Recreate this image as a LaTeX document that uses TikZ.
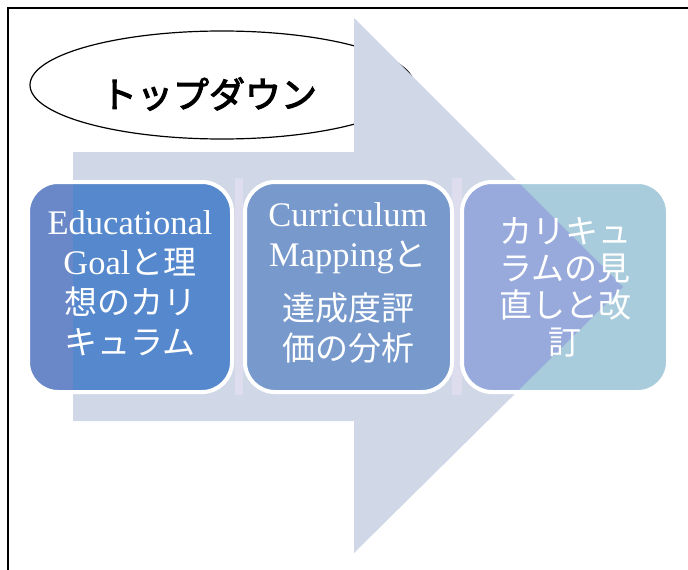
\documentclass[tikz,border=0pt]{standalone}
\usepackage{fontspec}
\setmainfont{Liberation Serif}
\newfontfamily\jp{Noto Sans CJK JP}
\newfontfamily\jpmed[FakeBold=3]{Noto Sans CJK JP}
\usetikzlibrary{shapes.geometric}
\definecolor{arrowc}{HTML}{D0D8E8}
\definecolor{lavc}{HTML}{DDDDEE}
\definecolor{boxa}{HTML}{5588CC}
\definecolor{boxaleft}{HTML}{6A88C8}
\definecolor{boxb}{HTML}{7799CC}
\definecolor{boxc}{HTML}{A9CCDC}
\definecolor{boxcleft}{HTML}{98AADC}
\begin{document}
\begin{tikzpicture}[x=1pt,y=-1pt,
  frame/.style={line width=2pt,draw=black},
  oval/.style={ellipse,draw=black,line width=1.2pt,fill=white,minimum width=384pt,minimum height=108pt,inner sep=0pt},
  titletext/.style={font=\jpmed\fontsize{36}{40}\selectfont,text=black,inner sep=0pt},
  boxborder/.style={draw=white,line width=4pt,rounded corners=30pt},
  boxtext/.style={text=white,align=center,inner sep=0pt,font=\fontsize{34.5}{40}\selectfont}
]
\useasboundingbox (0,0) rectangle (688,570);
% frame
\draw[frame] (8,570) -- (8,8) -- (688,8);
% ellipse with title
\node[oval] (oval) at (222,85) {};
\node[titletext] (title) at (209,94) {トップダウン};
% big arrow
\fill[arrowc] (73,152) -- (354,152) -- (354,18) -- (623,287) -- (354,553) -- (354,421) -- (73,421) -- cycle;
% lavender strips
\fill[lavc] (235,178) rectangle (243,395);
\fill[lavc] (452,178) rectangle (462,395);
% box 1
\fill[boxa,rounded corners=30pt] (28,182) rectangle (232,392);
\begin{scope}
  \clip[rounded corners=30pt] (28,182) rectangle (232,392);
  \fill[boxaleft] (0,150) rectangle (73,420);
\end{scope}
\draw[boxborder] (28,182) rectangle (232,392);
% box 2
\fill[boxb,rounded corners=30pt] (245,182) rectangle (452,392);
\draw[boxborder] (245,182) rectangle (452,392);
% box 3
\fill[boxc,rounded corners=30pt] (462,182) rectangle (668,392);
\begin{scope}
  \clip[rounded corners=30pt] (462,182) rectangle (668,392);
  \fill[boxcleft] (354,18) -- (623,287) -- (354,553) -- cycle;
\end{scope}
\draw[boxborder] (462,182) rectangle (668,392);
% texts
\node[boxtext] (t1) at (130,283) {Educational\\Goal{\jp\fontsize{33}{40}\selectfont と理}\\{\jp\fontsize{33}{40}\selectfont 想のカリ}\\{\jp\fontsize{33}{40}\selectfont キュラム}};
\node[boxtext] (t2) at (348,283) {Curriculum\\Mapping{\jp\fontsize{33}{40}\selectfont と}\\[14pt]{\jp\fontsize{33}{40}\selectfont 達成度評}\\{\jp\fontsize{33}{40}\selectfont 価の分析}};
\node[boxtext,font=\jp\fontsize{33}{37}\selectfont] (t3) at (565,287) {カリキュ\\ラムの見\\直しと改\\訂};
\end{tikzpicture}
\end{document}
